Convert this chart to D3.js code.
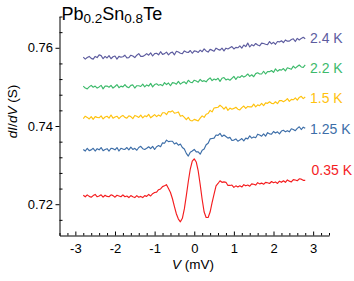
<!DOCTYPE html>
<html><head><meta charset="utf-8">
<script src="https://cdn.jsdelivr.net/npm/d3@7"></script>
<style>body{margin:0;background:#fff}svg{display:block;font-family:"Liberation Sans",Arial,Helvetica,sans-serif}</style>
</head><body><svg id="c" width="354" height="281"></svg>
<script>
// Bias voltage (mV)
const voltage=[-2.8,-2.75,-2.7,-2.65,-2.6,-2.55,-2.5,-2.45,-2.4,-2.35,
-2.3,-2.25,-2.2,-2.15,-2.1,-2.05,-2,-1.95,-1.9,-1.85,
-1.8,-1.75,-1.7,-1.65,-1.6,-1.55,-1.5,-1.45,-1.4,-1.35,
-1.3,-1.25,-1.2,-1.15,-1.1,-1.05,-1,-0.95,-0.9,-0.85,
-0.8,-0.75,-0.7,-0.65,-0.6,-0.55,-0.5,-0.45,-0.4,-0.35,
-0.3,-0.25,-0.2,-0.15,-0.1,-0.05,0,0.05,0.1,0.15,
0.2,0.25,0.3,0.35,0.4,0.45,0.5,0.55,0.6,0.65,
0.7,0.75,0.8,0.85,0.9,0.95,1,1.05,1.1,1.15,
1.2,1.25,1.3,1.35,1.4,1.45,1.5,1.55,1.6,1.65,
1.7,1.75,1.8,1.85,1.9,1.95,2,2.05,2.1,2.15,
2.2,2.25,2.3,2.35,2.4,2.45,2.5,2.55,2.6,2.65,
2.7,2.75,2.8];

// dI/dV (S) at each temperature
const T24=[0.7576,0.7571,0.7575,0.7578,0.7573,0.7571,0.7578,0.7575,0.7582,0.7580,
0.7572,0.7578,0.7574,0.7580,0.7572,0.7577,0.7579,0.7571,0.7578,0.7576,
0.7577,0.7581,0.7574,0.7575,0.7581,0.7579,0.7575,0.7581,0.7585,0.7578,
0.7578,0.7581,0.7585,0.7581,0.7587,0.7579,0.7585,0.7586,0.7582,0.7590,
0.7583,0.7585,0.7589,0.7582,0.7587,0.7589,0.7582,0.7591,0.7589,0.7586,
0.7585,0.7592,0.7589,0.7588,0.7593,0.7586,0.7592,0.7591,0.7588,0.7594,
0.7590,0.7597,0.7592,0.7589,0.7596,0.7594,0.7591,0.7599,0.7596,0.7594,
0.7599,0.7592,0.7599,0.7597,0.7600,0.7603,0.7597,0.7601,0.7600,0.7605,
0.7599,0.7607,0.7603,0.7612,0.7602,0.7608,0.7605,0.7611,0.7607,0.7605,
0.7612,0.7611,0.7609,0.7608,0.7616,0.7610,0.7614,0.7609,0.7616,0.7615,
0.7618,0.7613,0.7620,0.7617,0.7617,0.7621,0.7623,0.7616,0.7624,0.7620,
0.7624,0.7627,0.7623];

const T22=[0.7502,0.7497,0.7495,0.7500,0.7504,0.7499,0.7502,0.7497,0.7500,0.7504,
0.7495,0.7502,0.7502,0.7499,0.7504,0.7497,0.7501,0.7506,0.7498,0.7502,
0.7500,0.7506,0.7500,0.7498,0.7504,0.7505,0.7497,0.7503,0.7503,0.7501,
0.7507,0.7500,0.7505,0.7502,0.7509,0.7500,0.7506,0.7508,0.7504,0.7506,
0.7503,0.7511,0.7506,0.7510,0.7503,0.7511,0.7510,0.7507,0.7514,0.7507,
0.7511,0.7513,0.7508,0.7517,0.7512,0.7511,0.7517,0.7515,0.7512,0.7519,
0.7514,0.7516,0.7513,0.7519,0.7523,0.7516,0.7520,0.7518,0.7522,0.7514,
0.7522,0.7524,0.7518,0.7520,0.7517,0.7522,0.7527,0.7519,0.7526,0.7524,
0.7529,0.7525,0.7528,0.7533,0.7527,0.7531,0.7526,0.7534,0.7536,0.7533,
0.7533,0.7540,0.7533,0.7539,0.7539,0.7542,0.7537,0.7546,0.7540,0.7544,
0.7543,0.7547,0.7541,0.7549,0.7547,0.7545,0.7553,0.7548,0.7552,0.7556,
0.7551,0.7550,0.7556];

const T15=[0.7419,0.7425,0.7422,0.7418,0.7424,0.7417,0.7424,0.7422,0.7421,0.7426,
0.7418,0.7423,0.7425,0.7420,0.7428,0.7420,0.7423,0.7425,0.7419,0.7424,
0.7427,0.7422,0.7420,0.7426,0.7424,0.7419,0.7427,0.7425,0.7422,0.7428,
0.7421,0.7426,0.7424,0.7430,0.7421,0.7425,0.7429,0.7424,0.7428,0.7425,
0.7434,0.7434,0.7429,0.7437,0.7436,0.7439,0.7433,0.7434,0.7436,0.7425,
0.7427,0.7422,0.7416,0.7422,0.7414,0.7413,0.7417,0.7415,0.7413,0.7420,
0.7426,0.7422,0.7430,0.7432,0.7440,0.7436,0.7446,0.7447,0.7448,0.7453,
0.7449,0.7443,0.7449,0.7440,0.7446,0.7443,0.7445,0.7448,0.7443,0.7441,
0.7447,0.7451,0.7445,0.7450,0.7449,0.7449,0.7456,0.7449,0.7454,0.7452,
0.7458,0.7452,0.7459,0.7458,0.7462,0.7458,0.7457,0.7462,0.7457,0.7465,
0.7465,0.7462,0.7465,0.7470,0.7463,0.7468,0.7467,0.7472,0.7466,0.7473,
0.7476,0.7470,0.7474];

const T125=[0.7340,0.7336,0.7343,0.7337,0.7339,0.7343,0.7336,0.7342,0.7339,0.7345,
0.7337,0.7340,0.7342,0.7336,0.7343,0.7342,0.7339,0.7345,0.7336,0.7343,
0.7341,0.7340,0.7345,0.7339,0.7346,0.7340,0.7343,0.7338,0.7345,0.7348,
0.7342,0.7340,0.7343,0.7347,0.7342,0.7348,0.7340,0.7347,0.7350,0.7347,
0.7357,0.7356,0.7364,0.7360,0.7361,0.7361,0.7354,0.7357,0.7351,0.7354,
0.7345,0.7341,0.7330,0.7323,0.7333,0.7336,0.7340,0.7334,0.7334,0.7328,
0.7338,0.7341,0.7352,0.7356,0.7367,0.7368,0.7369,0.7377,0.7376,0.7381,
0.7373,0.7377,0.7373,0.7369,0.7371,0.7363,0.7364,0.7367,0.7361,0.7364,
0.7368,0.7362,0.7369,0.7367,0.7375,0.7369,0.7372,0.7370,0.7379,0.7377,
0.7374,0.7380,0.7374,0.7383,0.7380,0.7379,0.7386,0.7382,0.7385,0.7380,
0.7387,0.7389,0.7385,0.7388,0.7385,0.7393,0.7391,0.7388,0.7394,0.7398,
0.7391,0.7397,0.7394];

const T035=[0.7223,0.7219,0.7224,0.7220,0.7218,0.7222,0.7225,0.7219,0.7221,0.7224,
0.7218,0.7223,0.7220,0.7219,0.7224,0.7222,0.7218,0.7223,0.7221,0.7219,
0.7224,0.7219,0.7221,0.7217,0.7222,0.7219,0.7217,0.7222,0.7218,0.7220,
0.7217,0.7222,0.7220,0.7225,0.7221,0.7227,0.7230,0.7231,0.7237,0.7239,
0.7245,0.7247,0.7250,0.7240,0.7230,0.7214,0.7194,0.7175,0.7162,0.7155,
0.7164,0.7188,0.7222,0.7258,0.7290,0.7310,0.7316,0.7308,0.7285,0.7250,
0.7212,0.7180,0.7166,0.7166,0.7180,0.7204,0.7226,0.7247,0.7253,0.7260,
0.7256,0.7257,0.7256,0.7248,0.7248,0.7249,0.7243,0.7247,0.7244,0.7247,
0.7244,0.7250,0.7247,0.7249,0.7246,0.7252,0.7251,0.7249,0.7255,0.7252,
0.7254,0.7251,0.7256,0.7255,0.7253,0.7258,0.7255,0.7257,0.7253,0.7259,
0.7256,0.7260,0.7256,0.7262,0.7259,0.7257,0.7263,0.7262,0.7260,0.7265,
0.7264,0.7261,0.7261];

const seriesNames=["2.4 K","2.2 K","1.5 K","1.25 K","0.35 K"];
const seriesValues=[T24,T22,T15,T125,T035];
const seriesColors=["#5d5c9f","#3dba6b","#ffc20e","#3d6ea8","#f41d1f"];
const xTickValues=[-3,-2,-1,0,1,2,3];
const yTickValues=[0.72,0.74,0.76];

(function(){
const svg=d3.select("#c");
const pL=59.5,pR=329,pT=16.5,pB=235.5;
const x=d3.scaleLinear().domain([-3.4,3.4]).range([pL,pR]);
const y=d3.scaleLinear().domain([0.712,0.768]).range([pB,pT]);

// curves
const line=d3.line().x((d,i)=>x(voltage[i])).y(d=>y(d));
seriesValues.forEach((vals,k)=>{
  svg.append("path").attr("d",line(vals)).attr("fill","none")
    .attr("stroke",seriesColors[k]).attr("stroke-width",1.15).attr("stroke-linejoin","round");
});

// series labels
const labelPos=[[310,42.7],[310,73.3],[310,102.7],[310,134.3],[311.5,175]];
seriesNames.forEach((n,k)=>{
  svg.append("text").attr("x",labelPos[k][0]).attr("y",labelPos[k][1])
    .attr("font-size",14).attr("fill",seriesColors[k]).text(n);
});

// x axis
const xMinor=d3.range(-34,35,2).map(d=>d/10).filter(d=>Math.abs(d-Math.round(d))>1e-6);
const gxm=svg.append("g").attr("transform",`translate(0,${pB})`)
  .call(d3.axisBottom(x).tickValues(xMinor).tickSizeInner(-2.5).tickSizeOuter(0).tickFormat(""));
gxm.select(".domain").remove();
const gx=svg.append("g").attr("transform",`translate(0,${pB})`)
  .call(d3.axisBottom(x).tickValues(xTickValues).tickSizeInner(-4).tickSizeOuter(0).tickPadding(8).tickFormat(d=>String(d)));
gx.selectAll("text").attr("font-size",13).attr("fill","#000").style("font-family","Liberation Sans, Arial, sans-serif");

// y axis
const yMinor=d3.range(716,769,4).map(d=>d/1000).filter(d=>yTickValues.indexOf(d)<0);
const gym=svg.append("g").attr("transform",`translate(${pL},0)`)
  .call(d3.axisLeft(y).tickValues(yMinor).tickSizeInner(-3).tickSizeOuter(0).tickFormat(""));
gym.select(".domain").remove();
const gy=svg.append("g").attr("transform",`translate(${pL},0)`)
  .call(d3.axisLeft(y).tickValues(yTickValues).tickSizeInner(4).tickSizeOuter(0).tickPadding(2.5).tickFormat(d3.format(".2f")));
gy.selectAll("text").attr("font-size",13).attr("fill","#000").style("font-family","Liberation Sans, Arial, sans-serif");

svg.selectAll(".domain, .tick line").attr("stroke","#000").attr("stroke-width",1);

// axis titles
const xt=svg.append("text").attr("x",193).attr("y",268.5).attr("text-anchor","middle").attr("font-size",13.5);
xt.append("tspan").attr("font-style","italic").text("V");
xt.append("tspan").text(" (mV)");

const yt=svg.append("text").attr("transform","translate(16.5,111.5) rotate(-90)").attr("text-anchor","middle").attr("font-size",13.5);
yt.append("tspan").attr("font-style","italic").text("dI");
yt.append("tspan").text("/");
yt.append("tspan").attr("font-style","italic").text("dV");
yt.append("tspan").text(" (S)");

// compound title
const tt=svg.append("text").attr("x",61.5).attr("y",19.5).attr("font-size",18);
tt.append("tspan").text("Pb");
tt.append("tspan").attr("font-size",13.5).attr("dy",3.5).text("0.2");
tt.append("tspan").attr("dy",-3.5).text("Sn");
tt.append("tspan").attr("font-size",13.5).attr("dy",3.5).text("0.8");
tt.append("tspan").attr("dy",-3.5).text("Te");
})();
</script>
</body></html>
